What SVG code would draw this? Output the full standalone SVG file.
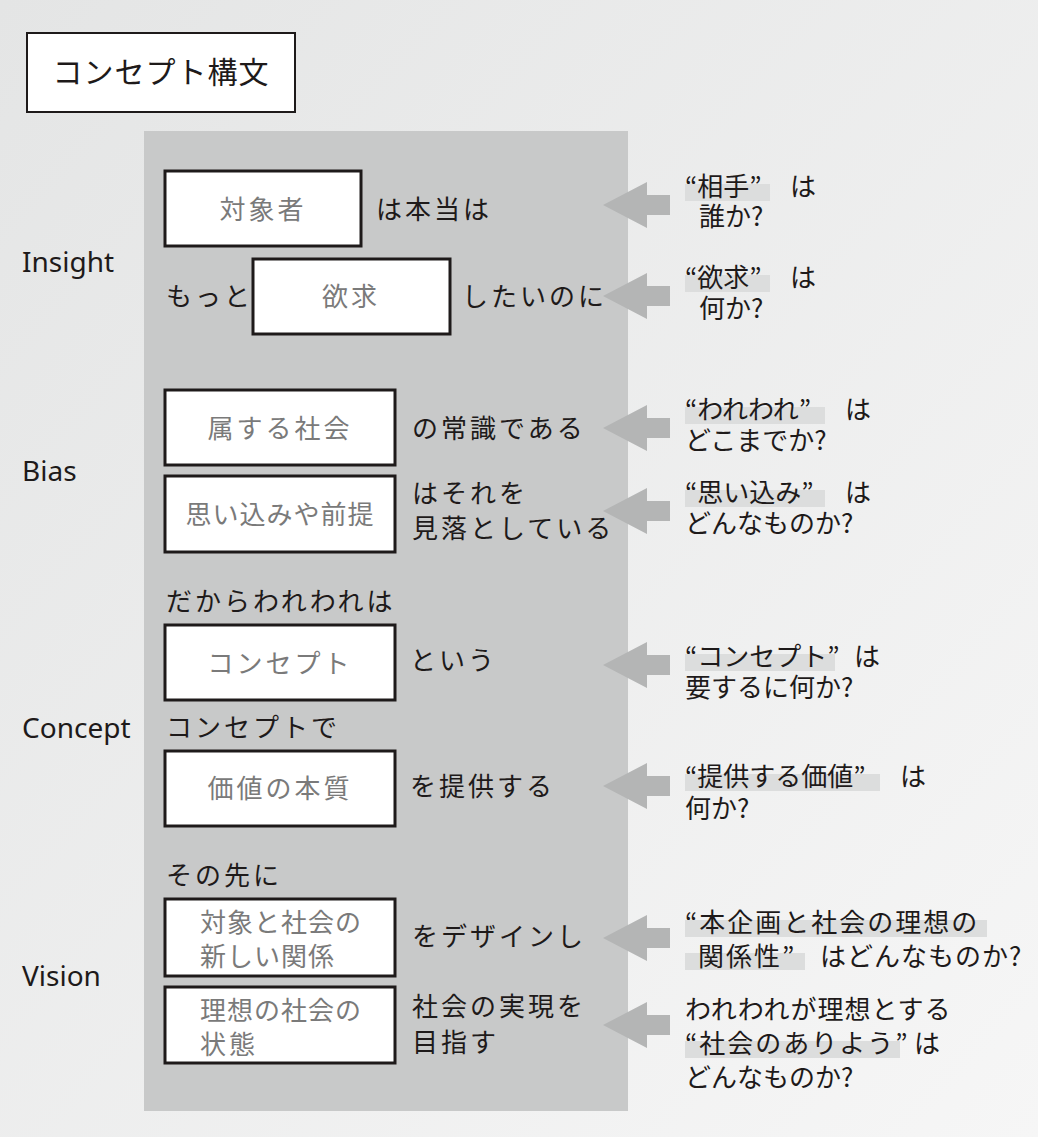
<svg xmlns="http://www.w3.org/2000/svg" width="1038" height="1137" viewBox="0 0 1038 1137">
<defs>
<linearGradient id="bg" x1="0" y1="0" x2="1" y2="1"><stop offset="0" stop-color="#e4e5e5"/><stop offset="1" stop-color="#f6f6f6"/></linearGradient>
<path id="arr" d="M0 0 L44 -23 L44 -10 L67 -10 L67 10 L44 10 L44 23 Z" fill="#b4b5b5"/>
</defs>
<style>
text{font-family:"Noto Sans CJK JP","Noto Sans",sans-serif;font-size:26px;fill:#1e1a1a}
g.n text{letter-spacing:3px}
.lab{font-family:"Noto Sans","DejaVu Sans",sans-serif;font-size:28px}
.box{fill:#fff;stroke:#1e1a1a;stroke-width:3}
.bt{fill:#7a7a7a;text-anchor:middle}
.bl{fill:#7a7a7a}
.hl{fill:#dcdddd}
</style>
<rect width="1038" height="1137" fill="url(#bg)"/>
<g id="title"><rect x="27" y="33" width="268" height="79" fill="#fff" stroke="#1e1a1a" stroke-width="2"/><text x="161" y="83" text-anchor="middle" style="font-size:30px;letter-spacing:1px">コンセプト構文</text></g>
<rect x="144" y="131" width="484" height="980" fill="#c8c9c9"/>
<g id="labels">
<text class="lab" x="22" y="272">Insight</text>
<text class="lab" x="22" y="481">Bias</text>
<text class="lab" x="22" y="738">Concept</text>
<text class="lab" x="22" y="986">Vision</text>
</g>
<g id="n1" class="n"><rect class="box" x="165" y="171" width="196" height="75"/><text class="bt" x="263" y="219">対象者</text><text x="376" y="219">は本当は</text></g>
<g id="n2" class="n"><text x="166" y="306">もっと</text><rect class="box" x="253" y="259" width="197" height="75"/><text class="bt" x="351" y="306">欲求</text><text x="462" y="306">したいのに</text></g>
<g id="n3" class="n"><rect class="box" x="165" y="390" width="230" height="75"/><text class="bt" x="280" y="438">属する社会</text><text x="412" y="438">の常識である</text></g>
<g id="n4" class="n"><rect class="box" x="165" y="476" width="230" height="76"/><text class="bt" x="280" y="524" style="letter-spacing:1px">思い込みや前提</text><text x="412" y="503">はそれを</text><text x="412" y="538">見落としている</text></g>
<g id="n5" class="n"><text x="166" y="611">だからわれわれは</text><rect class="box" x="165" y="625" width="230" height="75"/><text class="bt" x="280" y="673">コンセプト</text><text x="410" y="670">という</text></g>
<g id="n6" class="n"><text x="166" y="737">コンセプトで</text><rect class="box" x="165" y="751" width="230" height="75"/><text class="bt" x="280" y="798">価値の本質</text><text x="410" y="796">を提供する</text></g>
<g id="n7" class="n"><text x="166" y="885">その先に</text><rect class="box" x="165" y="899" width="230" height="77"/><text class="bl" x="200" y="932" style="letter-spacing:1px">対象と社会の</text><text class="bl" x="200" y="966" style="letter-spacing:1px">新しい関係</text><text x="412" y="946">をデザインし</text></g>
<g id="n8" class="n"><rect class="box" x="165" y="987" width="230" height="76"/><text class="bl" x="200" y="1020" style="letter-spacing:1px">理想の社会の</text><text class="bl" x="200" y="1054">状態</text><text x="412" y="1016">社会の実現を</text><text x="412" y="1052">目指す</text></g>
<g id="connectors">
<use href="#arr" x="603" y="205"/><use href="#arr" x="603" y="296"/><use href="#arr" x="603" y="428"/><use href="#arr" x="603" y="511"/>
<use href="#arr" x="603" y="665"/><use href="#arr" x="603" y="786"/><use href="#arr" x="603" y="938"/><use href="#arr" x="603" y="1025"/>
</g>
<g id="q">
<rect class="hl" x="685" y="184" width="85" height="17"/><text x="685" y="196">“相手”</text><text x="790" y="196">は</text><text x="699" y="226">誰か?</text>
<rect class="hl" x="685" y="275" width="85" height="17"/><text x="685" y="287">“欲求”</text><text x="790" y="287">は</text><text x="699" y="318">何か?</text>
<rect class="hl" x="685" y="407" width="140" height="17"/><text x="685" y="419">“われわれ”</text><text x="845" y="419">は</text><text x="685" y="450">どこまでか?</text>
<rect class="hl" x="685" y="490" width="140" height="17"/><text x="685" y="502">“思い込み”</text><text x="845" y="502">は</text><text x="685" y="533">どんなものか?</text>
<rect class="hl" x="685" y="654" width="150" height="17"/><text x="685" y="666">“コンセプト”</text><text x="854" y="666">は</text><text x="685" y="697">要するに何か?</text>
<rect class="hl" x="685" y="774" width="195" height="17"/><text x="685" y="786">“提供する価値”</text><text x="900" y="786">は</text><text x="685" y="818">何か?</text>
<rect class="hl" x="685" y="920" width="302" height="17"/><text x="685" y="932" style="letter-spacing:2px">“本企画と社会の理想の</text><rect class="hl" x="685" y="953" width="120" height="17"/><text x="698" y="966" style="letter-spacing:2px">関係性”</text><text x="820" y="966" style="letter-spacing:1px">はどんなものか?</text>
<text x="685" y="1019" style="letter-spacing:1px">われわれが理想とする</text><rect class="hl" x="685" y="1041" width="215" height="17"/><text x="685" y="1053" style="letter-spacing:2px">“社会のありよう”</text><text x="914" y="1053">は</text><text x="685" y="1087">どんなものか?</text>
</g>
</svg>
